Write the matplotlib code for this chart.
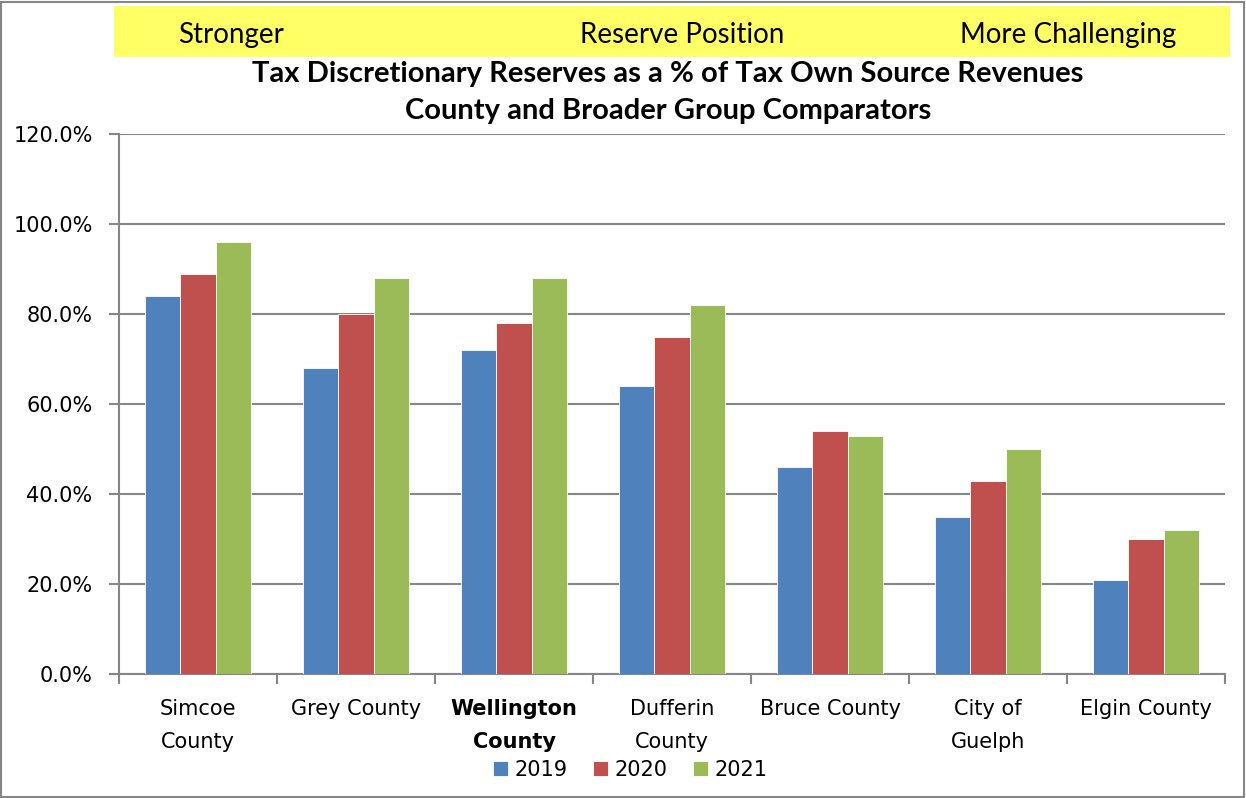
import numpy as np
import matplotlib.pyplot as plt
from matplotlib.patches import Rectangle
from matplotlib.ticker import FuncFormatter, FixedLocator

# data
categories = ['Simcoe\nCounty', 'Grey County', 'Wellington\nCounty', 'Dufferin\nCounty',
              'Bruce County', 'City of\nGuelph', 'Elgin County']
years = ['2019', '2020', '2021']
vals_2019 = [84, 68, 72, 64, 46, 35, 21]
vals_2020 = [89, 80, 78, 75, 54, 43, 30]
vals_2021 = [96, 88, 88, 82, 53, 50, 32]
colors = ['#4F81BD', '#C0504D', '#9BBB59']

W, H = 1246, 798
fig = plt.figure(figsize=(W / 100, H / 100), dpi=100)

# outer border
fig.patches.append(Rectangle((1 / W, 1 / H), 1 - 3 / W, 1 - 3 / H, transform=fig.transFigure,
                             fill=False, edgecolor='#868686', linewidth=1.5))

# yellow banner
fig.patches.append(Rectangle((114 / W, 1 - 57 / H), 1116 / W, 51 / H, transform=fig.transFigure,
                             facecolor='#FFFF66', edgecolor='none'))
banner_font = 'Lato'
fig.text(231 / W, 1 - 35 / H, 'Stronger', ha='center', va='center', fontsize=20, family=banner_font)
fig.text(682 / W, 1 - 35 / H, 'Reserve Position', ha='center', va='center', fontsize=20, family=banner_font)
fig.text(1068 / W, 1 - 35 / H, 'More Challenging', ha='center', va='center', fontsize=20, family=banner_font)

# chart title
fig.text(668 / W, 1 - 74 / H, 'Tax Discretionary Reserves as a % of Tax Own Source Revenues',
         ha='center', va='center', fontsize=21, fontweight='bold', family=banner_font)
fig.text(668 / W, 1 - 111 / H, 'County and Broader Group Comparators',
         ha='center', va='center', fontsize=21, fontweight='bold', family=banner_font)

ax = fig.add_axes([119 / W, 1 - 674 / H, 1106 / W, 540 / H])

x = np.arange(len(categories))
bw = 0.222
for i, (vals, c) in enumerate(zip([vals_2019, vals_2020, vals_2021], colors)):
    ax.bar(x + (i - 1) * bw, vals, width=bw, color=c, edgecolor='white', linewidth=0.6,
           label=years[i], zorder=3)

ax.set_xlim(-0.5, len(categories) - 0.5)
ax.set_ylim(0, 120)
ax.set_yticks(np.arange(0, 121, 20))
ax.yaxis.set_major_formatter(FuncFormatter(lambda v, p: f'{v:.1f}%'))
ax.grid(axis='y', color='#868686', linewidth=1.5, zorder=0)

for s in ['top', 'right']:
    ax.spines[s].set_visible(False)
for s in ['left', 'bottom']:
    ax.spines[s].set_color('#868686')
    ax.spines[s].set_linewidth(1.5)

ax.tick_params(axis='y', length=7, width=1.5, color='#868686', labelsize=15, pad=12)
ax.set_xticks(x)
ax.set_xticklabels(categories, fontsize=15, linespacing=1.8)
ax.tick_params(axis='x', which='major', length=0, pad=18)
ax.xaxis.set_minor_locator(FixedLocator(np.arange(-0.5, len(categories), 1.0)))
ax.tick_params(axis='x', which='minor', length=7, width=1.5, color='#868686')
ax.get_xticklabels()[2].set_fontweight('bold')

ax.legend(loc='center', bbox_to_anchor=(630 / W, 1 - 770 / H), bbox_transform=fig.transFigure,
          ncol=3, frameon=False, fontsize=15, handlelength=0.75, handleheight=0.75,
          handletextpad=0.3, columnspacing=1.2)

fig.savefig('out.png', dpi=100)
